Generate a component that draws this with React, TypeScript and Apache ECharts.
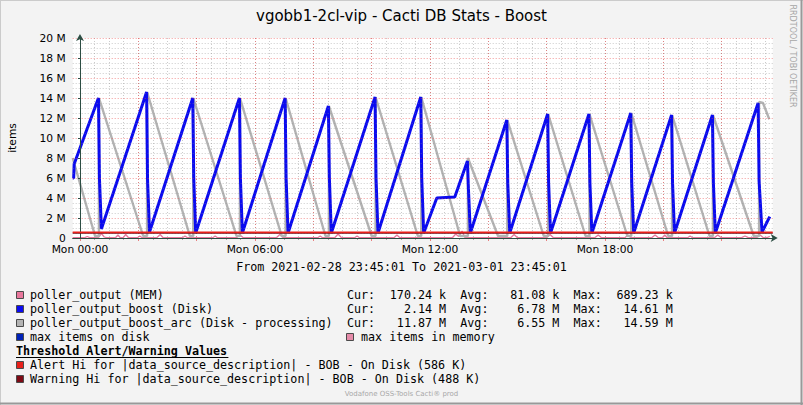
import React, { useEffect, useRef } from "react";
import * as echarts from "echarts";

const TITLE = "vgobb1-2cl-vip - Cacti DB Stats - Boost";
const PERIOD_TEXT = "From 2021-02-28 23:45:01 To 2021-03-01 23:45:01";
const WATERMARK = "RRDTOOL / TOBI OETIKER";
const FOOTER = "Vodafone OSS-Tools Cacti\u00ae prod";
const Y_NAME = "items";

// x values: minutes relative to Mon 00:00
const X_MIN = -15;
const X_MAX = 1425;
const X_LABEL_STEP = 360;
const X_MAJOR_STEP = 120;
const X_MINOR_STEP = 30;
const xTickLabels = ["Mon 00:00", "Mon 06:00", "Mon 12:00", "Mon 18:00"];

// y values in millions of items
const Y_MIN = 0;
const Y_MAX = 20;
const Y_STEP = 2;

// poller_output (MEM)
const pollerOutputMem: number[][] = [
  [-15, 0.03], [10, 0.03], [15, 0.15], [20, 0.03],
  [38, 0.03], [44, 0.45], [50, 0.1], [55, 0.03],
  [73, 0.03], [78, 0.3], [83, 0.03],
  [89, 0.03], [94, 0.35], [100, 0.03],
  [118, 0.03], [123, 0.2], [128, 0.03],
  [158, 0.03], [165, 0.35], [171, 0.03],
  [211, 0.03], [216, 0.2], [221, 0.03],
  [273, 0.03], [278, 0.2], [283, 0.03],
  [322, 0.03], [329, 0.3], [336, 0.03],
  [404, 0.03], [411, 0.35], [418, 0.03],
  [489, 0.03], [494, 0.2], [499, 0.03],
  [524, 0.03], [531, 0.4], [538, 0.03],
  [565, 0.03], [570, 0.2], [575, 0.03],
  [646, 0.03], [652, 0.3], [658, 0.03],
  [766, 0.03], [773, 0.4], [779, 0.15], [786, 0.69], [792, 0.03],
  [886, 0.03], [893, 0.35], [900, 0.03],
  [960, 0.03], [967, 0.35], [974, 0.03],
  [1059, 0.03], [1066, 0.3], [1073, 0.03],
  [1121, 0.03], [1127, 0.3], [1133, 0.03],
  [1176, 0.03], [1183, 0.3], [1190, 0.03],
  [1198, 0.03], [1203, 0.3], [1208, 0.03],
  [1250, 0.03], [1255, 0.2], [1260, 0.03],
  [1305, 0.03], [1312, 0.3], [1319, 0.03],
  [1361, 0.03], [1368, 0.2], [1375, 0.03],
  [1392, 0.03], [1399, 0.3], [1406, 0.03],
  [1414, 0.05], [1419, 0.17],
];

// poller_output_boost (Disk)
const pollerOutputBoost: number[][] = [
  [-15, 6.0], [-13, 6.0], [-12, 7.4],
  [38, 14.0], [40, 6.0], [44, 0.9],
  [137, 14.6], [139, 5.8], [143, 0.6],
  [232, 14.0], [234, 6.0], [238, 0.5],
  [328, 14.0], [330, 6.0], [334, 0.5],
  [422, 14.0], [424, 6.0], [428, 0.5],
  [511, 13.2], [513, 6.0], [517, 0.5],
  [607, 14.1], [609, 6.0], [613, 0.5],
  [701, 14.1], [703, 6.0], [707, 0.5],
  [734, 4.0], [771, 4.1],
  [797, 7.7], [799, 5.0], [803, 0.5],
  [878, 11.8], [880, 5.5], [884, 0.5],
  [962, 12.4], [964, 5.5], [968, 0.5],
  [1047, 12.4], [1049, 5.5], [1053, 0.5],
  [1133, 12.5], [1135, 5.5], [1139, 0.5],
  [1217, 12.3], [1219, 5.5], [1223, 0.5],
  [1301, 12.3], [1303, 5.5], [1307, 0.5],
  [1395, 13.5], [1397, 5.7], [1403, 0.6],
  [1419, 2.14],
];

// poller_output_boost_arc (Disk - processing)
const pollerOutputBoostArc: number[][] = [
  [-15, 8.0], [31, 0.2], [39, 0.2],
  [39, 14.0], [130, 0.2], [138, 0.2],
  [138, 14.6], [226, 0.2], [233, 0.2],
  [233, 14.0], [322, 0.2], [329, 0.2],
  [329, 14.0], [415, 0.2], [423, 0.2],
  [423, 14.0], [505, 0.2], [512, 0.2],
  [512, 13.2], [600, 0.2], [608, 0.2],
  [608, 14.1], [695, 0.2], [702, 0.2],
  [702, 14.1], [782, 0.2], [798, 0.2],
  [798, 8.0], [860, 0.2], [879, 0.2],
  [879, 11.8], [954, 0.2], [963, 0.2],
  [963, 12.4], [1040, 0.2], [1048, 0.2],
  [1048, 12.4], [1126, 0.2], [1134, 0.2],
  [1134, 12.5], [1210, 0.2], [1218, 0.2],
  [1218, 12.3], [1295, 0.2], [1302, 0.2],
  [1302, 12.3], [1386, 0.2], [1397, 0.2],
  [1397, 13.6], [1405, 13.5], [1418, 11.87],
];

// thresholds (millions)
const alertHi = 0.586;
const warningHi = 0.488;

// legend
const statNames = [
  "poller_output (MEM)",
  "poller_output_boost (Disk)",
  "poller_output_boost_arc (Disk - processing)",
];
const curValues = ["170.24 k", "2.14 M", "11.87 M"];
const avgValues = ["81.08 k", "6.78 M", "6.55 M"];
const maxValues = ["689.23 k", "14.61 M", "14.59 M"];
const extraLegend = ["max items on disk", "max items in memory"];
const thresholdHeader = "Threshold Alert/Warning Values";
const thresholdNames = [
  "Alert Hi for |data_source_description| - BOB - On Disk (586 K)",
  "Warning Hi for |data_source_description| - BOB - On Disk (488 K)",
];

const C_MEM = "#E8779C";
const C_BOOST = "#0A0AF0";
const C_ARC = "#B3B3B3";
const C_MAXDISK = "#0022B8";
const C_MAXMEM = "#E58BA9";
const C_ALERT = "#E8201A";
const C_WARN = "#7D0A15";
const C_AXIS = "#2C4D43";
const C_MAJOR = "rgba(235,70,70,0.55)";
const C_MINOR = "rgba(140,140,140,0.45)";

const SANS = "DejaVu Sans";
const MONO = "DejaVu Sans Mono";

export default function App() {
  const ref = useRef<HTMLDivElement>(null);

  useEffect(() => {
    if (!ref.current) return;
    const chart = echarts.init(ref.current, null, { renderer: "svg" });

    const PLOT_LEFT = 72.7;
    const PLOT_TOP = 38;
    const PLOT_W = 700;
    const PLOT_H = 200;
    const pxPerMin = PLOT_W / (X_MAX - X_MIN);
    const zeroLeft = PLOT_LEFT + (0 - X_MIN) * pxPerMin;
    const lastMinor = Math.floor(X_MAX / X_MINOR_STEP) * X_MINOR_STEP;
    const lastMajor = Math.floor(X_MAX / X_MAJOR_STEP) * X_MAJOR_STEP;
    const lastLabel = Math.floor(X_MAX / X_LABEL_STEP) * X_LABEL_STEP;

    const gridBase = { top: PLOT_TOP, height: PLOT_H, outerBoundsMode: "none", containLabel: false };

    const mono = `11.7px "${MONO}"`;
    const adv = 7.08;
    const rowY = [295, 309, 323, 337, 351, 365, 379];
    const curX = 347;
    const avgX = curX + 16 * adv;
    const maxX = curX + 32 * adv;
    const valW = 14 * adv;

    const graphics: any[] = [];
    // image border
    graphics.push(
      { type: "line", shape: { x1: 0, y1: 0.5, x2: 803, y2: 0.5 }, style: { stroke: "#CBCBCB", lineWidth: 1 } },
      { type: "line", shape: { x1: 0.5, y1: 0, x2: 0.5, y2: 405 }, style: { stroke: "#CBCBCB", lineWidth: 1 } },
      { type: "line", shape: { x1: 801.5, y1: 0, x2: 801.5, y2: 405 }, style: { stroke: "#999999", lineWidth: 2 } },
      { type: "line", shape: { x1: 0, y1: 403.5, x2: 803, y2: 403.5 }, style: { stroke: "#999999", lineWidth: 2 } }
    );
    const txt = (text: string, x: number, y: number, font: string, fill: string, align = "left", extra: any = {}) => ({
      type: "text",
      x,
      y,
      ...extra,
      style: { text, font, fill, align, verticalAlign: "middle", textAlign: align, textVerticalAlign: "middle" },
    });
    graphics.push(txt(TITLE, 401.5, 16, `15px "${SANS}"`, "#000", "center"));
    graphics.push(txt(WATERMARK, 792.5, 56, `8px "${SANS}"`, "#A6A6A6", "center", { rotation: -Math.PI / 2 }));
    graphics.push(txt(PERIOD_TEXT, 401.5, 267, mono, "#000", "center"));
    graphics.push(txt(FOOTER, 401.5, 394, `7px "${SANS}"`, "#A8A8A8", "center"));

    const box = (x: number, y: number, color: string) => ({
      type: "rect",
      shape: { x: x + 0.5, y: y - 3.5, width: 7, height: 7 },
      style: { fill: color, stroke: "#4A4A4A", lineWidth: 1 },
    });
    const statColors = [C_MEM, C_BOOST, C_ARC];
    statNames.forEach((name, i) => {
      graphics.push(box(16, rowY[i], statColors[i]));
      graphics.push(txt(name, 30, rowY[i], mono, "#000"));
      graphics.push(txt("Cur:", curX, rowY[i], mono, "#000"));
      graphics.push(txt(curValues[i], curX + valW, rowY[i], mono, "#000", "right"));
      graphics.push(txt("Avg:", avgX, rowY[i], mono, "#000"));
      graphics.push(txt(avgValues[i], avgX + valW, rowY[i], mono, "#000", "right"));
      graphics.push(txt("Max:", maxX, rowY[i], mono, "#000"));
      graphics.push(txt(maxValues[i], maxX + valW, rowY[i], mono, "#000", "right"));
    });
    graphics.push(box(16, rowY[3], C_MAXDISK));
    graphics.push(txt(extraLegend[0], 30, rowY[3], mono, "#000"));
    graphics.push(box(346, rowY[3], C_MAXMEM));
    graphics.push(txt(extraLegend[1], 361, rowY[3], mono, "#000"));
    graphics.push(txt(thresholdHeader, 16, rowY[4], `bold 11.7px "${MONO}"`, "#000"));
    graphics.push({
      type: "line",
      shape: { x1: 16, y1: rowY[4] + 6.5, x2: 16 + thresholdHeader.length * adv, y2: rowY[4] + 6.5 },
      style: { stroke: "#000", lineWidth: 1 },
    });
    graphics.push(box(16, rowY[5], C_ALERT));
    graphics.push(txt(thresholdNames[0], 30, rowY[5], mono, "#000"));
    graphics.push(box(16, rowY[6], C_WARN));
    graphics.push(txt(thresholdNames[1], 30, rowY[6], mono, "#000"));

    const lineSeries = (name: string, data: number[][], color: string, width: number, z: number) => ({
      name,
      type: "line",
      xAxisIndex: 0,
      yAxisIndex: 0,
      data,
      showSymbol: false,
      symbol: "none",
      silent: true,
      z,
      lineStyle: { color, width },
      itemStyle: { color },
    });

    const option: any = {
      animation: false,
      backgroundColor: "#F3F3F3",
      grid: [
        { ...gridBase, left: PLOT_LEFT, width: PLOT_W, show: true, backgroundColor: "#FFFFFF", borderWidth: 0 },
        { ...gridBase, left: zeroLeft, width: lastMinor * pxPerMin },
        { ...gridBase, left: zeroLeft, width: lastMajor * pxPerMin },
        { ...gridBase, left: zeroLeft, width: lastLabel * pxPerMin },
      ],
      xAxis: [
        {
          type: "value",
          gridIndex: 0,
          min: X_MIN,
          max: X_MAX,
          z: 5,
          axisLabel: { show: false },
          axisTick: { show: false },
          splitLine: { show: false },
          axisLine: {
            show: true,
            lineStyle: { color: C_AXIS, width: 1 },
            symbol: ["none", "arrow"],
            symbolSize: [6, 7],
            symbolOffset: [0, 5],
          },
        },
        {
          type: "value",
          gridIndex: 1,
          min: 0,
          max: lastMinor,
          interval: X_MINOR_STEP,
          axisLine: { show: false },
          axisLabel: { show: false },
          axisTick: { show: true, length: 2, lineStyle: { color: "#AAAAAA" } },
          splitLine: { show: true, lineStyle: { color: C_MINOR, type: [1, 2], width: 1 } },
        },
        {
          type: "value",
          gridIndex: 2,
          min: 0,
          max: lastMajor,
          interval: X_MAJOR_STEP,
          axisLine: { show: false },
          axisLabel: { show: false },
          axisTick: { show: true, length: 3, lineStyle: { color: "#E88080" } },
          splitLine: { show: true, lineStyle: { color: C_MAJOR, type: [1, 2], width: 1 } },
        },
        {
          type: "value",
          gridIndex: 3,
          min: 0,
          max: lastLabel,
          interval: X_LABEL_STEP,
          axisLine: { show: false },
          axisTick: { show: false },
          splitLine: { show: false },
          axisLabel: {
            show: true,
            showMinLabel: true,
            showMaxLabel: true,
            margin: 6,
            lineHeight: 11,
            color: "#000",
            fontFamily: SANS,
            fontSize: 10.7,
            formatter: (v: number) => xTickLabels[Math.round(v / X_LABEL_STEP)] ?? "",
          },
        },
      ],
      yAxis: [
        {
          type: "value",
          gridIndex: 0,
          min: Y_MIN,
          max: Y_MAX,
          interval: Y_STEP,
          z: 5,
          name: Y_NAME,
          nameLocation: "middle",
          nameRotate: 90,
          nameGap: 55,
          nameTextStyle: { color: "#000", fontFamily: SANS, fontSize: 10.7 },
          axisLine: {
            show: true,
            lineStyle: { color: C_AXIS, width: 1 },
            symbol: ["none", "arrow"],
            symbolSize: [6, 7],
            symbolOffset: [0, 4],
          },
          axisTick: { show: true, length: 2, lineStyle: { color: C_AXIS } },
          axisLabel: {
            show: true,
            showMinLabel: true,
            showMaxLabel: true,
            margin: 7,
            lineHeight: 11,
            color: "#000",
            fontFamily: SANS,
            fontSize: 10.7,
            formatter: (v: number) => (v === 0 ? "0" : `${v} M`),
          },
          splitLine: { show: true, lineStyle: { color: C_MAJOR, type: [1, 2], width: 1 } },
          minorTick: { show: false, splitNumber: 4 },
          minorSplitLine: { show: true, lineStyle: { color: C_MINOR, type: [1, 2], width: 1 } },
        },
        { type: "value", gridIndex: 1, min: 0, max: 1, show: false },
        { type: "value", gridIndex: 2, min: 0, max: 1, show: false },
        { type: "value", gridIndex: 3, min: 0, max: 1, show: false },
      ],
      series: [
        lineSeries(statNames[0], pollerOutputMem, C_MEM, 1.3, 2),
        lineSeries(statNames[2], pollerOutputBoostArc, C_ARC, 2.4, 3),
        lineSeries(statNames[1], pollerOutputBoost, C_BOOST, 3, 4),
        lineSeries(thresholdNames[1], [[X_MIN, warningHi], [X_MAX, warningHi]], C_WARN, 1.2, 5),
        lineSeries(thresholdNames[0], [[X_MIN, alertHi], [X_MAX, alertHi]], C_ALERT, 1.5, 6),
      ],
      graphic: { elements: graphics },
    };

    chart.setOption(option);
    return () => chart.dispose();
  }, []);

  return <div ref={ref} style={{ position: "absolute", left: 0, top: 0, width: 803, height: 405 }} />;
}
